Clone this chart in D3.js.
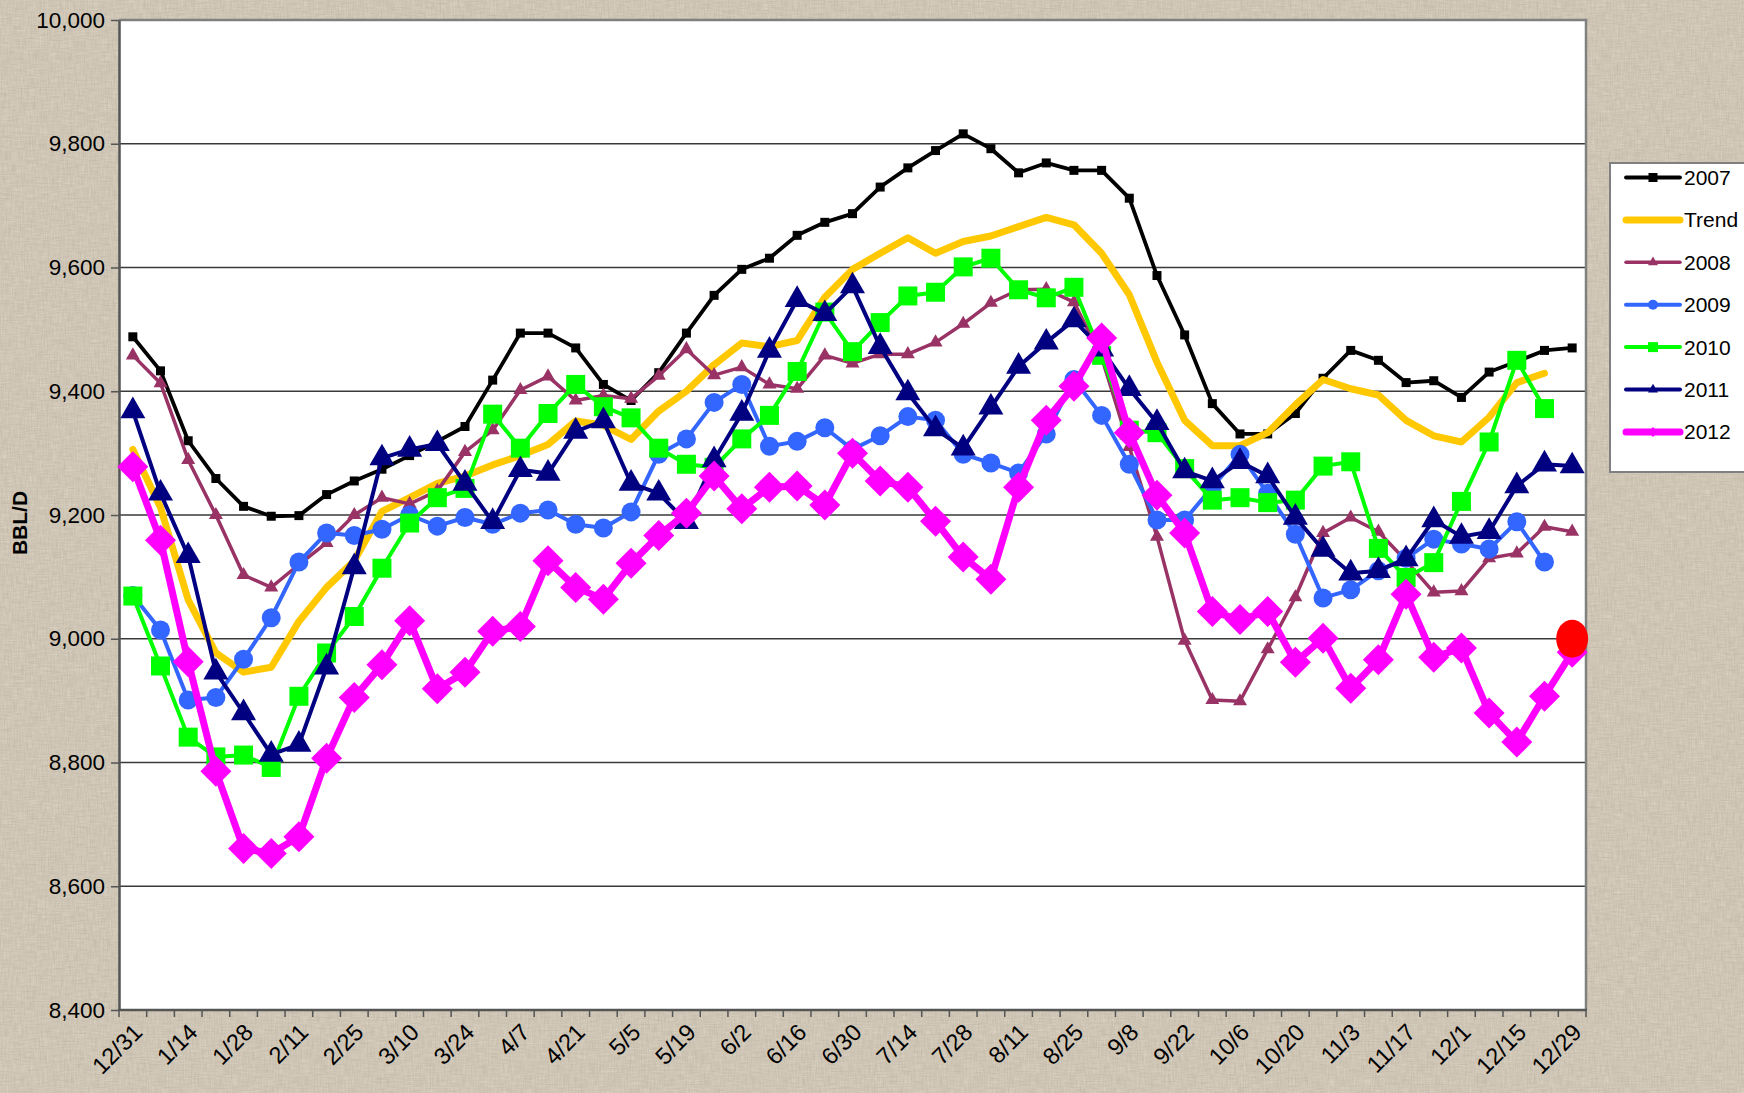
<!DOCTYPE html>
<html>
<head>
<meta charset="utf-8">
<script src="https://cdn.jsdelivr.net/npm/d3@7"></script>
<style>
  html, body { margin: 0; padding: 0; background: #d8cebe; }
  svg { display: block; }
</style>
</head>
<body>
<svg id="chart"></svg>
<script>
// weekly dates, 12/31 through 12/29
const weeks = ["12/31","1/7","1/14","1/21","1/28","2/4","2/11","2/18","2/25","3/3","3/10","3/17","3/24","3/31",
    "4/7","4/14","4/21","4/28","5/5","5/12","5/19","5/26","6/2","6/9","6/16","6/23","6/30","7/7","7/14","7/21",
    "7/28","8/4","8/11","8/18","8/25","9/1","9/8","9/15","9/22","9/29","10/6","10/13","10/20","10/27","11/3",
    "11/10","11/17","11/24","12/1","12/8","12/15","12/22","12/29"];

const y2007 = [9488,9433,9320,9259,9214,9198,9199,9233,9255,9274,9296,9319,9343,9418,9494,9494,9470,9411,9385,9430,
    9494,9555,9597,9615,9652,9673,9687,9730,9761,9789,9816,9792,9753,9769,9757,9757,9712,9587,9491,9380,9331,9331,
    9364,9421,9466,9450,9414,9417,9390,9431,9448,9466,9470];
const trend = [9306,9212,9063,8977,8946,8954,9028,9083,9126,9206,9228,9251,9263,9281,9296,9314,9352,9345,9322,9368,
    9400,9443,9478,9472,9482,9552,9597,9623,9648,9623,9642,9651,9666,9681,9669,9623,9556,9447,9353,9312,9312,9333,
    9378,9419,9404,9394,9353,9328,9318,9358,9414,9429];
const y2008 = [9458,9413,9289,9200,9103,9083,9120,9155,9200,9228,9218,9239,9302,9337,9402,9424,9385,9393,9388,9425,
    9468,9426,9439,9411,9404,9458,9445,9460,9460,9479,9509,9543,9564,9565,9544,9455,9310,9165,8997,8901,8899,8983,
    9067,9171,9196,9173,9126,9075,9077,9130,9138,9181,9173];
const y2009 = [9070,9014,8901,8905,8967,9034,9124,9171,9167,9177,9200,9182,9196,9185,9203,9208,9185,9179,9205,9298,
    9323,9382,9411,9311,9319,9341,9306,9328,9359,9353,9298,9284,9268,9331,9419,9361,9282,9192,9192,9245,9298,9235,
    9169,9066,9079,9110,9130,9161,9153,9145,9189,9124];
const y2010 = [9069,8956,8841,8809,8812,8792,8907,8977,9036,9114,9187,9228,9243,9363,9308,9364,9411,9375,9357,9308,
    9282,9277,9323,9361,9432,9528,9464,9511,9554,9560,9601,9615,9564,9551,9568,9458,9337,9333,9275,9224,9228,9220,
    9224,9279,9286,9146,9099,9123,9222,9318,9450,9372];
const y2011 = [9368,9235,9134,8946,8880,8813,8829,8954,9116,9292,9306,9315,9251,9189,9273,9267,9335,9352,9251,9235,
    9189,9289,9364,9466,9548,9525,9570,9472,9397,9339,9308,9374,9440,9479,9515,9468,9404,9349,9271,9255,9286,9263,
    9196,9144,9106,9110,9129,9192,9165,9173,9247,9282,9279];
const y2012 = [9278,9159,8963,8786,8661,8653,8680,8807,8905,8958,9029,8919,8946,9012,9020,9126,9083,9064,9122,9167,
    9203,9263,9210,9245,9247,9216,9300,9255,9245,9190,9132,9096,9245,9353,9408,9486,9333,9232,9171,9044,9031,9044,
    8962,9001,8920,8966,9072,8970,8985,8880,8833,8907,8978];
const highlight = {week: "12/29", value: 9000};

const yTicks = [8400, 8600, 8800, 9000, 9200, 9400, 9600, 9800, 10000];

// series in drawing / legend order
const series = [
    {name: "2007",  values: y2007, color: "#000000", width: 3.8, symbol: "square",   size: 9},
    {name: "Trend", values: trend, color: "#ffc800", width: 7,   symbol: null,       size: 0},
    {name: "2008",  values: y2008, color: "#993366", width: 3.5, symbol: "triangle", size: 14},
    {name: "2009",  values: y2009, color: "#3366ff", width: 4,   symbol: "circle",   size: 19},
    {name: "2010",  values: y2010, color: "#00ff00", width: 4,   symbol: "square",   size: 19},
    {name: "2011",  values: y2011, color: "#000080", width: 4,   symbol: "triangle", size: 25},
    {name: "2012",  values: y2012, color: "#ff00ff", width: 7,   symbol: "diamond",  size: 31}
];

const width = 1744, height = 1093;
const margin = {left: 119, right: 1586, top: 20, bottom: 1010};

const svg = d3.select("#chart")
    .attr("width", width)
    .attr("height", height)
    .style("font-family", "'Liberation Sans', Arial, sans-serif");

// linen-ish background
const defs = svg.append("defs");
const tex = defs.append("filter").attr("id", "linen").attr("x", 0).attr("y", 0).attr("width", "100%").attr("height", "100%");
tex.append("feTurbulence").attr("type", "fractalNoise").attr("baseFrequency", "0.7 0.08").attr("numOctaves", 2).attr("seed", 3).attr("result", "h");
tex.append("feTurbulence").attr("type", "fractalNoise").attr("baseFrequency", "0.08 0.7").attr("numOctaves", 2).attr("seed", 7).attr("result", "v");
tex.append("feBlend").attr("in", "h").attr("in2", "v").attr("mode", "multiply").attr("result", "b");
tex.append("feColorMatrix").attr("in", "b").attr("type", "matrix")
    .attr("values", "0 0 0 0 0.42  0 0 0 0 0.37  0 0 0 0 0.30  -1.6 0 0 0 1.15");

svg.append("rect").attr("width", width).attr("height", height).attr("fill", "#dad1c1");
svg.append("rect").attr("width", width).attr("height", height).attr("filter", "url(#linen)").attr("opacity", 0.55);

const x = d3.scaleBand()
    .domain(weeks)
    .range([margin.left, margin.right])
    .padding(0);
const cx = d => x(d) + x.bandwidth() / 2;

const y = d3.scaleLinear()
    .domain([8400, 10000])
    .range([margin.bottom, margin.top]);

// plot area
svg.append("rect")
    .attr("x", margin.left)
    .attr("y", margin.top)
    .attr("width", margin.right - margin.left)
    .attr("height", margin.bottom - margin.top)
    .attr("fill", "#ffffff");

// gridlines
svg.append("g")
    .selectAll("line")
    .data(yTicks.slice(1))
    .join("line")
    .attr("x1", margin.left)
    .attr("x2", margin.right)
    .attr("y1", d => y(d))
    .attr("y2", d => y(d))
    .attr("stroke", "#3a3a3a")
    .attr("stroke-width", 1.3);

// top / right frame
svg.append("path")
    .attr("d", `M${margin.left},${margin.top}H${margin.right}V${margin.bottom}`)
    .attr("fill", "none")
    .attr("stroke", "#808080")
    .attr("stroke-width", 2.5);

// y axis
const yAxis = svg.append("g")
    .attr("transform", `translate(${margin.left},0)`)
    .call(d3.axisLeft(y).tickValues(yTicks).tickFormat(d3.format(",")).tickSize(8).tickSizeOuter(0).tickPadding(6));
yAxis.select(".domain").attr("stroke", "#555555").attr("stroke-width", 2.5);
yAxis.selectAll(".tick line").attr("stroke", "#555555").attr("stroke-width", 1.5);
yAxis.selectAll("text")
    .attr("fill", "#000")
    .style("font-size", "22.5px");

// x axis: ticks between categories, labels every other week
const xAxis = svg.append("g")
    .attr("transform", `translate(0,${margin.bottom})`);
xAxis.append("line")
    .attr("x1", margin.left - 1)
    .attr("x2", margin.right + 1)
    .attr("stroke", "#555555")
    .attr("stroke-width", 2.5);
xAxis.selectAll(".xtick")
    .data([...weeks.map(d => x(d)), margin.right])
    .join("line")
    .attr("class", "xtick")
    .attr("x1", d => d)
    .attr("x2", d => d)
    .attr("y1", 0)
    .attr("y2", 7)
    .attr("stroke", "#555555")
    .attr("stroke-width", 1.5);
xAxis.selectAll("text")
    .data(weeks.filter((d, i) => i % 2 === 0))
    .join("text")
    .attr("transform", d => `translate(${cx(d) + 5},${18}) rotate(-45)`)
    .attr("text-anchor", "end")
    .attr("dy", "0.35em")
    .style("font-size", "23.5px")
    .attr("fill", "#000")
    .text(d => d);

// y axis title
svg.append("text")
    .attr("transform", `translate(27,523) rotate(-90)`)
    .attr("text-anchor", "middle")
    .style("font-size", "21px")
    .style("font-weight", "bold")
    .text("BBL/D");

const symbolPath = (type, size) => {
    if (type === "square") return d3.symbol(d3.symbolSquare, size * size)();
    if (type === "circle") return d3.symbol(d3.symbolCircle, Math.PI * size * size / 4)();
    if (type === "triangle") return d3.symbol(d3.symbolTriangle, Math.sqrt(3) / 4 * size * size)();
    if (type === "diamond") {
        const r = size / 2;
        return `M0,${-r}L${r},0L0,${r}L${-r},0Z`;
    }
    return null;
};

const line = d3.line()
    .x((d, i) => cx(weeks[i]))
    .y(d => y(d))
    .curve(d3.curveLinear);

const plot = svg.append("g");
series.forEach(s => {
    const g = plot.append("g");
    g.append("path")
        .datum(s.values)
        .attr("d", line)
        .attr("fill", "none")
        .attr("stroke", s.color)
        .attr("stroke-width", s.width)
        .attr("stroke-linejoin", "round")
        .attr("stroke-linecap", "round");
    if (s.symbol) {
        g.selectAll("path.mark")
            .data(s.values)
            .join("path")
            .attr("class", "mark")
            .attr("d", symbolPath(s.symbol, s.size))
            .attr("transform", (d, i) => `translate(${cx(weeks[i])},${y(d)})`)
            .attr("fill", s.color);
    }
});

// current week marker
plot.append("ellipse")
    .attr("cx", cx(highlight.week))
    .attr("cy", y(highlight.value))
    .attr("rx", 16)
    .attr("ry", 19)
    .attr("fill", "#ff0000");

// legend
const legend = svg.append("g").attr("transform", "translate(1610,163)");
legend.append("rect")
    .attr("width", 160)
    .attr("height", 309)
    .attr("fill", "#ffffff")
    .attr("stroke", "#808080")
    .attr("stroke-width", 2);

const item = legend.selectAll("g.item")
    .data(series)
    .join("g")
    .attr("class", "item")
    .attr("transform", (d, i) => `translate(0,${14.5 + i * 42.4})`);
item.append("line")
    .attr("x1", 16)
    .attr("x2", 70)
    .attr("stroke", d => d.color)
    .attr("stroke-width", d => d.width)
    .attr("stroke-linecap", "round");
item.filter(d => d.symbol)
    .append("path")
    .attr("transform", "translate(43,0)")
    .attr("d", d => symbolPath(d.symbol, Math.min(d.size, 10)))
    .attr("fill", d => d.color);
item.append("text")
    .attr("x", 74)
    .attr("dy", "0.36em")
    .style("font-size", "21px")
    .attr("fill", "#000")
    .text(d => d.name);
</script>
</body>
</html>
